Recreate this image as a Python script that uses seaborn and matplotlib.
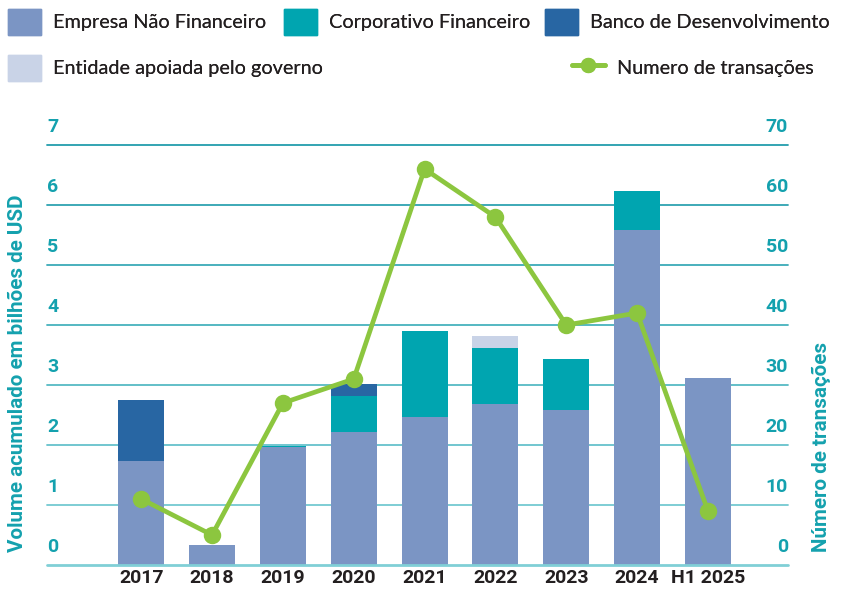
import matplotlib
matplotlib.use("Agg")
import matplotlib.pyplot as plt
import matplotlib.transforms as mtransforms
from matplotlib.patches import Patch
from matplotlib.lines import Line2D
import numpy as np
import pandas as pd
import seaborn as sns

# ---------------- data ----------------
years = ["2017", "2018", "2019", "2020", "2021", "2022", "2023", "2024", "H1 2025"]
nao_financeiro = [1.74, 0.33, 1.96, 2.21, 2.46, 2.68, 2.58, 5.58, 3.12]
corp_financeiro = [0.00, 0.00, 0.03, 0.61, 1.44, 0.94, 0.85, 0.65, 0.00]
banco_desenv = [1.01, 0.00, 0.00, 0.20, 0.00, 0.00, 0.00, 0.00, 0.00]
entidade_gov = [0.00, 0.00, 0.00, 0.00, 0.00, 0.20, 0.00, 0.00, 0.00]
num_transacoes = [11, 5, 27, 31, 66, 58, 40, 42, 9]

left_ticks = [0, 1, 2, 3, 4, 5, 6, 7]
right_ticks = [0, 10, 20, 30, 40, 50, 60, 70]

series_names = ["Empresa Não Financeiro", "Corporativo Financeiro",
                "Banco de Desenvolvimento", "Entidade apoiada pelo governo"]
line_name = "Numero de transações"

# ---------------- style ----------------
sns.set_theme(style="white")
plt.rcParams["font.family"] = ["Lato", "DejaVu Sans"]
BOLD_FAM = ["Roboto", "DejaVu Sans"]

C_NF = "#7b95c4"
C_CF = "#00a5b0"
C_BD = "#2866a3"
C_EG = "#c9d3e7"
C_LINE = "#8cc63f"
C_AX = "#14a1ae"
C_TXT = "#231f20"

df = pd.DataFrame({
    "ano": years,
    "nf": nao_financeiro,
    "cf": corp_financeiro,
    "bd": banco_desenv,
    "eg": entidade_gov,
    "n": num_transacoes,
})
df["c1"] = df["nf"]
df["c2"] = df["c1"] + df["cf"]
df["c3"] = df["c2"] + df["bd"]
df["c4"] = df["c3"] + df["eg"]

fig = plt.figure(figsize=(8.44, 5.92), dpi=100)
ax = fig.add_axes([47 / 844, 27 / 592, (788 - 47) / 844, (565 - 145) / 592])

# stacked bars drawn as overlaid cumulative totals (tallest first)
for col, colr in [("c4", C_EG), ("c3", C_BD), ("c2", C_CF), ("c1", C_NF)]:
    sns.barplot(data=df, x="ano", y=col, color=colr, width=0.65,
                saturation=1, ax=ax, zorder=2, order=years,
                linewidth=0, edgecolor="none")

ax.set_ylim(0, 7)
xlim = (-1.33, 8 + 1.13)
ax.set_xlim(*xlim)

# gridlines with a light-to-dark teal gradient
grid_cols = ["#80cfd6", "#74c9d1", "#66c2cb", "#56bac4", "#47b2bd", "#3aaab7", "#2ea3b1", "#239dac"]
for v, gc in zip(left_ticks, grid_cols):
    ax.axhline(v, color=gc, lw=2.0 if v == 0 else 1.3,
               zorder=3 if v == 0 else 1, clip_on=False)

ax.set_yticks(left_ticks)
ax.set_yticklabels([])
ax.tick_params(axis="y", length=0)
ax.tick_params(axis="x", length=0, pad=3)
for lbl in ax.get_xticklabels():
    lbl.set_fontfamily(BOLD_FAM)
    lbl.set_fontweight("bold")
    lbl.set_fontsize(14)
    lbl.set_color(C_TXT)
ax.set_xlabel("")
ax.set_ylabel("")
for s in ax.spines.values():
    s.set_visible(False)

# line on secondary axis
ax2 = ax.twinx()
sns.pointplot(data=df, x="ano", y="n", order=years, color=C_LINE,
              ax=ax2, markers="o", markersize=10, linewidth=3.4,
              errorbar=None, zorder=5)
ax2.set_ylim(0, 70)
ax2.set_xlim(*xlim)
ax2.set_yticks(right_ticks)
ax2.set_yticklabels([])
ax2.tick_params(axis="y", length=0)
ax2.set_ylabel("")
ax2.set_xlabel("")
for s in ax2.spines.values():
    s.set_visible(False)

# tick labels placed above gridlines, inside the plot
tl = mtransforms.offset_copy(ax.get_yaxis_transform(), fig=fig, x=0, y=18, units="dots")
for v in left_ticks:
    ax.text(0, v, str(v), transform=tl, ha="left", va="center",
            fontsize=14, fontweight="bold", color=C_AX, family=BOLD_FAM)
tr = mtransforms.offset_copy(ax2.get_yaxis_transform(), fig=fig, x=0, y=18, units="dots")
for v in right_ticks:
    ax2.text(1, v, str(v), transform=tr, ha="right", va="center",
             fontsize=14, fontweight="bold", color=C_AX, family=BOLD_FAM)

# axis titles
fig.text(18 / 844, 1 - 552 / 592, "Volume acumulado em bilhões de USD", rotation=90,
         ha="center", va="bottom", fontsize=14.9, fontweight="bold", color=C_AX,
         family=BOLD_FAM)
fig.text(821 / 844, 1 - 552 / 592, "Número de transações", rotation=90,
         ha="center", va="bottom", fontsize=14.9, fontweight="bold", color=C_AX,
         family=BOLD_FAM)

# legend: each entry placed individually
def add_entry(handle, label, x_px, y_px):
    leg = fig.legend([handle], [label], loc="center left",
                     bbox_to_anchor=(x_px / 844, 1 - y_px / 592),
                     frameon=False, borderpad=0, borderaxespad=0,
                     handlelength=1.65, handleheight=1.65, handletextpad=0.6,
                     fontsize=14.3, labelcolor=C_TXT, numpoints=1)
    fig.add_artist(leg)

add_entry(Patch(color=C_NF), series_names[0], 8, 22)
add_entry(Patch(color=C_CF), series_names[1], 284, 22)
add_entry(Patch(color=C_BD), series_names[2], 545, 22)
add_entry(Patch(color=C_EG), series_names[3], 8, 68)
add_entry(Line2D([], [], color=C_LINE, lw=3.4, marker="o", markersize=10), line_name, 572, 68)

fig.savefig("out.png", dpi=100)
